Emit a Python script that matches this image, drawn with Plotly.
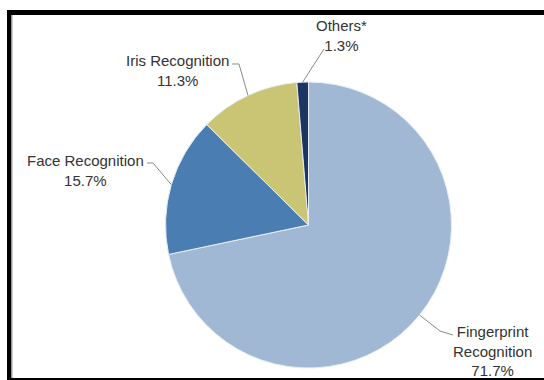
import math
import plotly.graph_objects as go

# ---- data ----
categories = ["Fingerprint<br>Recognition", "Face Recognition", "Iris Recognition", "Others*"]
shares = [71.7, 15.7, 11.3, 1.3]
pct_labels = ["71.7%", "15.7%", "11.3%", "1.3%"]
colors = ["#a0b8d3", "#4a7db2", "#c9c574", "#1c3562"]

W, H = 544, 380
CX, CY, R = 308.5, 225.0, 143.0  # pie centre / radius in px


def px(x):
    return x / W


def py(y):
    return 1 - y / H


fig = go.Figure()
fig.add_trace(go.Pie(
    labels=[c.replace("<br>", " ") for c in categories],
    values=shares,
    sort=False,
    direction="clockwise",
    rotation=0,
    marker=dict(colors=colors, line=dict(color="#e8eef5", width=1)),
    textinfo="none",
    hoverinfo="label+percent",
    showlegend=False,
    domain=dict(x=[px(CX - R), px(CX + R)], y=[py(CY + R), py(CY - R)]),
))

# label layout (text centre, elbow points of leader line)
label_pos = [(492, 351), (85, 170), (177, 70), (341, 36)]
elbows = [[(453, 335), (440, 331)], [(147, 163), (153, 163)],
          [(232, 64), (239, 64)], [(324, 49)]]

total = sum(shares)
cum = 0.0
shapes = []
annotations = []
for i, v in enumerate(shares):
    mid = (cum + v / 2) / total * 2 * math.pi
    cum += v
    ex, ey = CX + R * math.sin(mid), CY - R * math.cos(mid)
    pts = elbows[i] + [(ex, ey)]
    path = "M " + " L ".join(f"{px(a):.4f},{py(b):.4f}" for a, b in pts)
    shapes.append(dict(type="path", xref="paper", yref="paper", path=path,
                       line=dict(color="#8a8a8a", width=1)))
    tx, ty = label_pos[i]
    annotations.append(dict(
        x=px(tx), y=py(ty), xref="paper", yref="paper", showarrow=False,
        text=f"{categories[i]}<br>{pct_labels[i]}", align="center",
        xanchor="center", yanchor="middle",
        font=dict(family="Liberation Sans, Arial, sans-serif", size=15, color="#333333"),
    ))

# black frame (top band, left band, bottom line)
shapes += [
    dict(type="rect", xref="paper", yref="paper", x0=px(7), x1=1, y0=py(15), y1=py(10),
         fillcolor="black", line=dict(width=0)),
    dict(type="rect", xref="paper", yref="paper", x0=px(7), x1=px(11), y0=0, y1=py(10),
         fillcolor="black", line=dict(width=0)),
    dict(type="rect", xref="paper", yref="paper", x0=px(11), x1=px(12.5), y0=0, y1=py(15),
         fillcolor="#9a9a9a", line=dict(width=0)),
    dict(type="rect", xref="paper", yref="paper", x0=px(7), x1=1, y0=0, y1=py(378),
         fillcolor="black", line=dict(width=0)),
]

fig.update_layout(
    width=W, height=H,
    margin=dict(l=0, r=0, t=0, b=0),
    paper_bgcolor="white", plot_bgcolor="white",
    shapes=shapes, annotations=annotations,
)

fig.write_html("out.html")
